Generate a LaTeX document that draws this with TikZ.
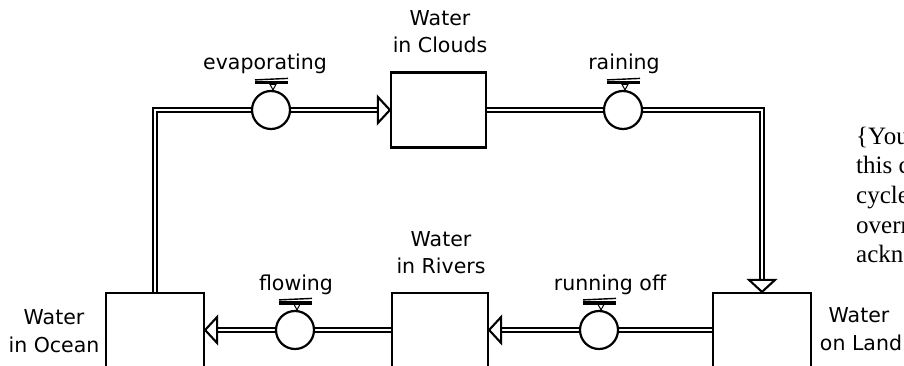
\documentclass[tikz,border=0pt]{standalone}
\usepackage{fontspec}
\setmainfont{DejaVu Sans}
\newfontfamily\notefont{Liberation Serif}
\usetikzlibrary{backgrounds}

\begin{document}
\begin{tikzpicture}[x=1pt,y=-1pt,
  stock/.style={draw, line width=2.2pt, fill=white, inner sep=0pt},
  valve/.style={draw, circle, line width=2.2pt, fill=white, minimum size=38pt, inner sep=0pt},
  pipe/.style={draw, double=white, line width=2pt, double distance=2.4pt},
  tip/.style={draw, fill=white, line width=2.1pt, line join=miter},
  lbl/.style={font=\fontsize{20.5}{27}\selectfont, inner sep=0pt, anchor=base},
  note/.style={font=\notefont\fontsize{25}{29}\selectfont, inner sep=0pt, anchor=base west},
  handle/.style={line width=3.2pt},
]
% page frame
\useasboundingbox (0,0) rectangle (904,366);
\begin{pgfonlayer}{background}
  \fill[white] (0,0) rectangle (904,366);
\end{pgfonlayer}

% stocks
\node[stock, minimum width=95pt, minimum height=75pt] (clouds) at (438.5,110) {};
\node[stock, minimum width=98pt, minimum height=140pt] (ocean) at (155,363) {};
\node[stock, minimum width=96pt, minimum height=140pt] (rivers) at (440,363) {};
\node[stock, minimum width=98pt, minimum height=140pt] (land) at (762,363) {};

% valves
\node[valve] (evap) at (271,110) {};
\node[valve] (rain) at (623,110) {};
\node[valve] (runoff) at (599,330) {};
\node[valve] (flow) at (295,330) {};

% valve handles
\foreach \v in {evap,rain,runoff,flow}{
  \begin{scope}[shift={(\v.north)}]
    \draw[handle] (-16,-7) -- (17,-7);
    \draw[line width=1.4pt] (-16,-10) -- (17,-11.5);
    \draw[line width=1pt, fill=white, line join=miter] (-1,-5.5) -- (5,-5.5) -- (2,0) -- cycle;
  \end{scope}
}

% pipe end points on the stocks
\coordinate (rivout) at (rivers.west |- flow.center);
\coordinate (rivin) at (rivers.east |- runoff.center);
\coordinate (landout) at (land.west |- runoff.center);
\coordinate (oceanin) at (ocean.east |- flow.center);

% pipes
\begin{pgfonlayer}{background}
  \draw[pipe] (ocean.north) |- (evap.west);
  \draw[pipe] (evap.east) -- ([xshift=-12pt]clouds.west);
  \draw[pipe] (clouds.east) -- (rain.west);
  \draw[pipe] (rain.east) -| ([yshift=12pt]land.north);
  \draw[pipe] (landout) -- (runoff.east);
  \draw[pipe] (runoff.west) -- ([xshift=12pt]rivin);
  \draw[pipe] (rivout) -- (flow.east);
  \draw[pipe] (flow.west) -- ([xshift=12pt]oceanin);
\end{pgfonlayer}

% open arrowheads where the pipes enter the stocks
\draw[tip] (clouds.west) -- ++(-12,-13) -- ++(0,26) -- cycle;
\draw[tip] (land.north) -- ++(-13,-12) -- ++(26,0) -- cycle;
\draw[tip] (rivin) -- ++(12,-13) -- ++(0,26) -- cycle;
\draw[tip] (oceanin) -- ++(12,-13) -- ++(0,26) -- cycle;

% stock labels
\node[lbl] (cloudsA) at (440,26) {Water};
\node[lbl] (cloudsB) at (440,53) {in Clouds};
\node[lbl] (riversA) at (441,246) {Water};
\node[lbl] (riversB) at (441,273) {in Rivers};
\node[lbl] (oceanA) at (54,324) {Water};
\node[lbl] (oceanB) at (54,352) {in Ocean};
\node[lbl] (landA) at (859,322) {Water};
\node[lbl] (landB) at (861,350) {on Land};

% flow labels
\node[lbl] (evapl) at (265,70) {evaporating};
\node[lbl] (rainl) at (624,70) {raining};
\node[lbl] (runoffl) at (610,290) {running off};
\node[lbl] (flowl) at (296,290) {flowing};

% side note
\node[note] (n1) at (856,145) {\{You};
\node[note] (n2) at (856,174) {this c};
\node[note] (n3) at (856,204) {cycle};
\node[note] (n4) at (856,233) {overr};
\node[note] (n5) at (856,262) {ackn};
\end{tikzpicture}
\end{document}
